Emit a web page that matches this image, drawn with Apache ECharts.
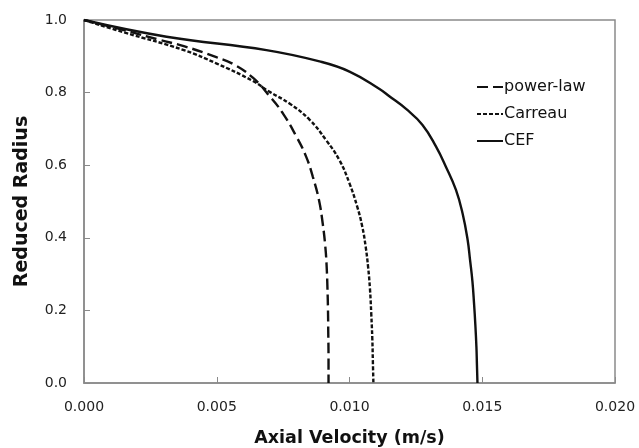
<!DOCTYPE html>
<html>
<head>
<meta charset="utf-8">
<script src="https://cdn.jsdelivr.net/npm/echarts@6/dist/echarts.min.js"></script>
<style>html,body{margin:0;padding:0;background:#fff}#c{width:639px;height:448px}</style>
</head>
<body>
<div id="c"></div>
<script>
var xTicks = [0, 0.005, 0.010, 0.015, 0.020];
var yTicks = [0, 0.2, 0.4, 0.6, 0.8, 1.0];
var seriesNames = ['power-law', 'Carreau', 'CEF'];
// [axial velocity (m/s), reduced radius]
var powerLaw = [
  [0, 1.0], [0.00150, 0.972], [0.00286, 0.945], [0.00376, 0.928], [0.00501, 0.897],
  [0.00561, 0.879], [0.00636, 0.841], [0.00699, 0.790], [0.00749, 0.743],
  [0.00800, 0.679], [0.00837, 0.623], [0.00862, 0.568], [0.00885, 0.504],
  [0.00899, 0.440], [0.00909, 0.375], [0.00914, 0.320], [0.00917, 0.260],
  [0.00919, 0.200], [0.00920, 0.140], [0.00921, 0.070], [0.00921, 0.0]
];
var carreau = [
  [0, 1.0], [0.00150, 0.966], [0.00376, 0.917], [0.00500, 0.880], [0.00636, 0.832],
  [0.00699, 0.802], [0.00774, 0.770], [0.00850, 0.725], [0.00912, 0.669],
  [0.00962, 0.614], [0.01000, 0.550], [0.01029, 0.486], [0.01048, 0.431],
  [0.01061, 0.375], [0.01070, 0.320], [0.01077, 0.260], [0.01082, 0.190],
  [0.01086, 0.120], [0.01088, 0.060], [0.01090, 0.0]
];
var cef = [
  [0, 1.0], [0.00311, 0.954], [0.00687, 0.917], [0.00887, 0.886], [0.01000, 0.858],
  [0.01113, 0.810], [0.01150, 0.790], [0.01213, 0.755], [0.01275, 0.711],
  [0.01326, 0.651], [0.01363, 0.596], [0.01401, 0.532], [0.01426, 0.467],
  [0.01445, 0.394], [0.01454, 0.339], [0.01463, 0.280], [0.01469, 0.220],
  [0.01474, 0.160], [0.01478, 0.100], [0.01480, 0.050], [0.01482, 0.0]
];
var dashTypes = [[11, 5], [4, 2], 'solid'];
var datasets = [powerLaw, carreau, cef];

var chart = echarts.init(document.getElementById('c'), null, {renderer: 'canvas'});
var font = 'DejaVu Sans';
chart.setOption({
  animation: false,
  backgroundColor: '#fff',
  grid: {left: 84, top: 20, right: 24, bottom: 65, containLabel: false, outerBoundsMode: 'none',
    show: true, borderColor: '#8a8a8a', borderWidth: 1.5, backgroundColor: 'transparent'},
  legend: {
    orient: 'vertical', left: 471, top: 74, itemGap: 11, itemWidth: 26, itemHeight: 18,
    itemStyle: {opacity: 0},
    textStyle: {fontFamily: font, fontSize: 16, color: '#111', padding: [0, 0, 0, -4]},
    data: seriesNames
  },
  xAxis: {
    type: 'value', min: 0, max: 0.020, interval: 0.005,
    name: 'Axial Velocity (m/s)', nameLocation: 'middle', nameGap: 46,
    nameTextStyle: {fontFamily: font, fontSize: 17.5, fontWeight: 'bold', color: '#111'},
    axisLine: {lineStyle: {color: '#8a8a8a', width: 1.5}},
    axisTick: {inside: true, length: 6, lineStyle: {color: '#8a8a8a'}},
    axisLabel: {fontFamily: font, fontSize: 14, color: '#222', margin: 17,
      formatter: function (v) { return v.toFixed(3); }},
    splitLine: {show: false}
  },
  yAxis: {
    type: 'value', min: 0, max: 1.0, interval: 0.2,
    name: 'Reduced Radius', nameLocation: 'middle', nameGap: 52, nameRotate: 90,
    nameTextStyle: {fontFamily: font, fontSize: 19, fontWeight: 'bold', color: '#111'},
    axisLine: {lineStyle: {color: '#8a8a8a', width: 1.5}},
    axisTick: {inside: true, length: 6, lineStyle: {color: '#8a8a8a'}},
    axisLabel: {fontFamily: font, fontSize: 14, color: '#222', margin: 17,
      formatter: function (v) { return v.toFixed(1); }},
    splitLine: {show: false}
  },
  series: seriesNames.map(function (n, i) {
    return {
      name: n, type: 'line', data: datasets[i], smooth: 0.45, showSymbol: false, symbol: 'none',
      lineStyle: {color: '#111', width: 2.4, type: dashTypes[i]},
      itemStyle: {color: '#111'}
    };
  })
});
</script>
</body>
</html>
